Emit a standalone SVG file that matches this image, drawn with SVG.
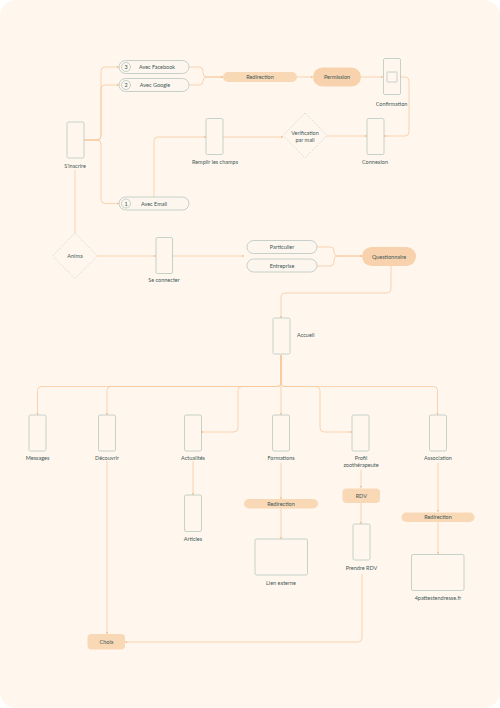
<svg xmlns="http://www.w3.org/2000/svg" width="500" height="708" viewBox="0 0 500 708">
<defs>
<marker id="ah" viewBox="0 0 4 4" refX="4" refY="2" markerWidth="2.4" markerHeight="2.4" markerUnits="userSpaceOnUse" orient="auto">
<path d="M0,0 L4,2 L0,4 Z" fill="#f5b98a"/>
</marker>
<style>
text{font-family:Lato,"Noto Sans","Liberation Sans",sans-serif;font-size:5.5px;fill:#3f5757;text-anchor:middle;dominant-baseline:central}
.ph{fill:none;stroke:#b7c6bf;stroke-width:0.8}
.pill{fill:#fdf6ee;stroke:#b7c6bf;stroke-width:0.8}
.pe{fill:#f9d8b6}
.pd{fill:#f8d2ac}
.dm{fill:none;stroke:#b7c6bf;stroke-width:0.6;stroke-dasharray:1.6 1.6}
.c path{fill:none;stroke:#f7c9a0;stroke-width:0.8}
.c .a{marker-end:url(#ah)}
</style>
</defs>
<rect x="0" y="0" width="500" height="708" fill="#ffffff"/>
<rect x="0" y="0" width="500" height="708" rx="16" fill="#fff7ee"/>

<g class="c" id="connectors">
<path class="a" d="M84,140 H97 Q101,140 101,136 V71 Q101,67 105,67 H119"/>
<path class="a" d="M84,140 H97 Q101,140 101,136 V89 Q101,85 105,85 H119"/>
<path class="a" d="M84,140 H97 Q101,140 101,144 V199.5 Q101,203.5 105,203.5 H119"/>
<path class="a" d="M154,197 V141 Q154,137 158,137 H206"/>
<path class="a" d="M223,137 H283"/>
<path class="a" d="M327,136 H367"/>
<path d="M189,67 H199 Q203,67 203,71 V73 Q203,77 207,77 H223"/>
<path class="a" d="M189,85 H199 Q203,85 203,81 Q203,77 207,77 H223"/>
<path class="a" d="M297,77 H313"/>
<path class="a" d="M361,77 H383"/>
<path class="a" d="M400,77 H405 Q409,77 409,81 V132 Q409,136 405,136 H384"/>
<path d="M75,170 V233"/>
<path class="a" d="M97,256 H156"/>
<path class="a" d="M172,256 H244"/>
<path d="M317,247 H330 Q334,247 334,251 V252 Q334,256 338,256 H362"/>
<path class="a" d="M317,266 H330 Q334,266 334,262 V260 Q334,256 338,256 H362"/>
<path class="a" d="M391,266 V289 Q391,293 387,293 H285 Q281,293 281,297 V318"/>
<path class="a" d="M281,355 V382 Q281,386.5 277,386.5 H41.5 Q37.5,386.5 37.5,390.5 V415"/>
<path class="a" d="M281,355 V382 Q281,386.5 277,386.5 H111 Q107,386.5 107,390.5 V415"/>
<path class="a" d="M281,355 V382 Q281,386.5 277,386.5 H242 Q238,386.5 238,390.5 V428 Q238,432 234,432 H201"/>
<path class="a" d="M281,355 V415"/>
<path class="a" d="M281,355 V382 Q281,386.5 285,386.5 H316 Q320,386.5 320,390.5 V428 Q320,432 324,432 H352"/>
<path class="a" d="M281,355 V382 Q281,386.5 285,386.5 H433.5 Q437.5,386.5 437.5,390.5 V415"/>
<path class="a" d="M193,461 V495"/>
<path class="a" d="M281,463 V499"/>
<path class="a" d="M281,508 V539"/>
<path class="a" d="M361,470 V488"/>
<path class="a" d="M361,503 V524"/>
<path class="a" d="M438,463 V512"/>
<path class="a" d="M438,522 V554"/>
<path class="a" d="M107,461 V634"/>
<path class="a" d="M362,574 V638 Q362,642 358,642 H125"/>
</g>

<g id="sinscrire"><rect class="ph" x="67" y="122" width="17" height="36" rx="1.5"/><text x="75" y="166">S'inscrire</text></g>
<g id="facebook"><rect class="pill" x="119" y="60.5" width="70" height="13" rx="6.5"/><circle class="pill" cx="126" cy="67" r="4.5"/><text x="126" y="67">3</text><text x="157" y="67">Avec Facebook</text></g>
<g id="google"><rect class="pill" x="119" y="78.5" width="70" height="13" rx="6.5"/><circle class="pill" cx="126" cy="85" r="4.5"/><text x="126" y="85">2</text><text x="155" y="85">Avec Google</text></g>
<g id="email"><rect class="pill" x="119" y="197" width="70" height="13" rx="6.5"/><circle class="pill" cx="126" cy="203.5" r="4.5"/><text x="126" y="203.5">1</text><text x="154" y="203.5">Avec Email</text></g>
<g id="remplir"><rect class="ph" x="206" y="118.5" width="17" height="36" rx="1.5"/><text x="215" y="162">Remplir les champs</text></g>
<g id="redirection1"><rect class="pe" x="223" y="72" width="74" height="10" rx="5"/><text x="260" y="77">Redirection</text></g>
<g id="permission"><rect class="pd" x="313" y="67.5" width="48" height="19" rx="9.5"/><text x="337" y="77">Permission</text></g>
<g id="confirmation"><rect class="ph" x="383.5" y="58.5" width="17" height="36" rx="1.5"/><rect class="ph" x="387" y="72" width="10" height="10" rx="0.5"/><text x="391.5" y="103.5">Confirmation</text></g>
<g id="verification"><polygon class="dm" points="305,113 327,135.5 305,158 283,135.5"/><text x="305" y="132.5">Verification</text><text x="305" y="139.5">par mail</text></g>
<g id="connexion"><rect class="ph" x="367" y="118.5" width="17" height="36" rx="1.5"/><text x="375" y="162">Connexion</text></g>
<g id="anima"><polygon class="dm" points="75,233 97.5,256 75,278.5 52.5,256"/><text x="75" y="256">Anima</text></g>
<g id="seconnecter"><rect class="ph" x="156" y="237.5" width="16.5" height="36" rx="1.5"/><text x="164" y="280">Se connecter</text></g>
<g id="particulier"><rect class="pill" x="247" y="240.5" width="70" height="13" rx="6.5"/><text x="282" y="247">Particulier</text></g>
<g id="entreprise"><rect class="pill" x="247" y="259" width="70" height="13" rx="6.5"/><text x="282" y="265.5">Entreprise</text></g>
<g id="questionnaire"><rect class="pd" x="362" y="247" width="54" height="19" rx="9.5"/><text x="389" y="256.5">Questionnaire</text></g>
<g id="accueil"><rect class="ph" x="273" y="318" width="17" height="36" rx="1.5"/><text x="297" y="334.5" style="text-anchor:start">Accueil</text></g>
<g id="messages"><rect class="ph" x="29" y="415" width="17" height="36" rx="1.5"/><text x="37.5" y="458">Messages</text></g>
<g id="decouvrir"><rect class="ph" x="98.5" y="415" width="17" height="36" rx="1.5"/><text x="107" y="458">Découvrir</text></g>
<g id="actualites"><rect class="ph" x="184.5" y="415" width="17" height="36" rx="1.5"/><text x="193" y="458">Actualités</text></g>
<g id="formations"><rect class="ph" x="272.5" y="415" width="17" height="36" rx="1.5"/><text x="281" y="458">Formations</text></g>
<g id="profil"><rect class="ph" x="352" y="415" width="17" height="36" rx="1.5"/><text x="361" y="458">Profil</text><text x="361" y="465">zoothérapeute</text></g>
<g id="association"><rect class="ph" x="429.5" y="415" width="17" height="36" rx="1.5"/><text x="438" y="458">Association</text></g>
<g id="articles"><rect class="ph" x="184.5" y="495" width="17" height="36.5" rx="1.5"/><text x="193" y="538.5">Articles</text></g>
<g id="redirection2"><rect class="pe" x="244" y="499" width="74" height="9.5" rx="4.75"/><text x="281" y="503.8">Redirection</text></g>
<g id="lienexterne"><rect class="ph" x="255" y="539" width="52.5" height="36" rx="1.5"/><text x="281" y="582.5">Lien externe</text></g>
<g id="rdv"><rect class="pe" x="342.5" y="488.5" width="37.5" height="14.5" rx="4"/><text x="361.3" y="495.8">RDV</text></g>
<g id="prendrerdv"><rect class="ph" x="353" y="524" width="17" height="36" rx="1.5"/><text x="361.5" y="567.5">Prendre RDV</text></g>
<g id="redirection3"><rect class="pe" x="401.5" y="512.5" width="73" height="9.5" rx="4.75"/><text x="438" y="517.3">Redirection</text></g>
<g id="pattes"><rect class="ph" x="411.5" y="554.5" width="52.5" height="36" rx="1.5"/><text x="438" y="598">4pattestendresse.fr</text></g>
<g id="choix"><rect class="pe" x="87.5" y="634" width="37.5" height="15.5" rx="4"/><text x="106.5" y="642">Choix</text></g>
</svg>
